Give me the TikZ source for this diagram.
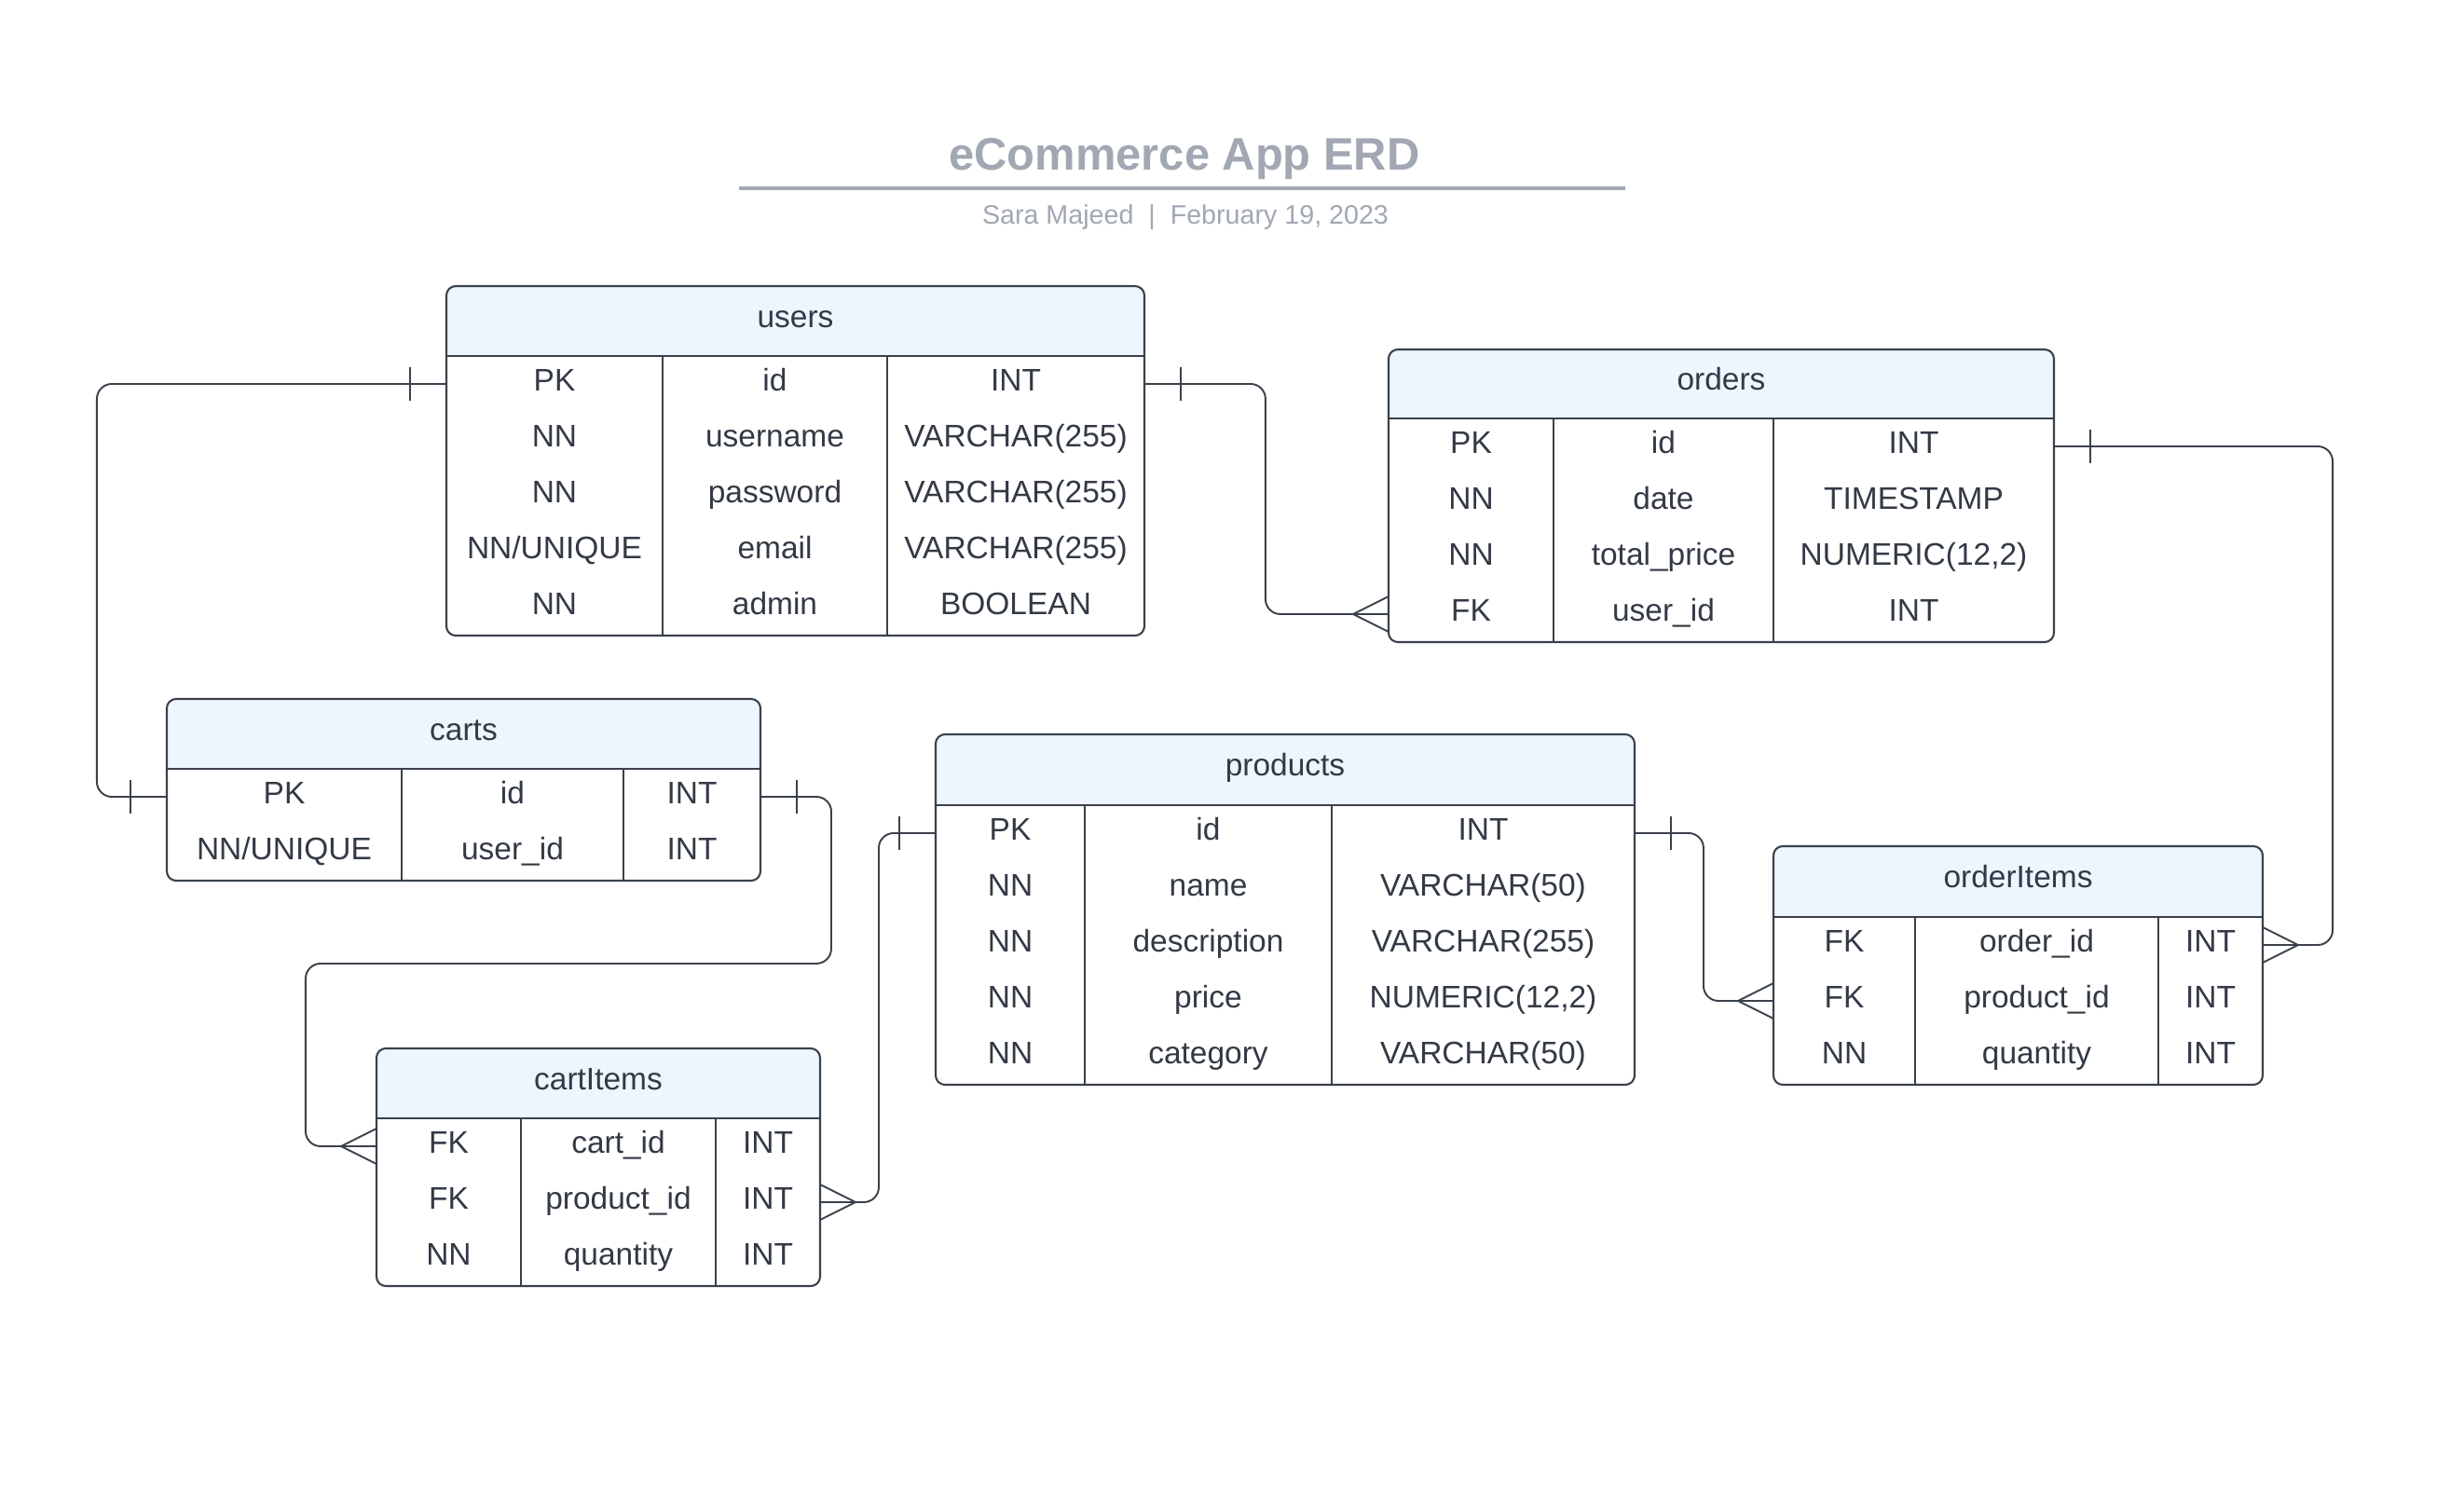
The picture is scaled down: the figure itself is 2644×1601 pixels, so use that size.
\documentclass[tikz,border=0pt]{standalone}
\usepackage{fontspec}
\setmainfont{Liberation Sans}
\usetikzlibrary{fit}
\definecolor{textc}{RGB}{51,58,69}
\definecolor{linec}{RGB}{58,65,74}
\definecolor{headfill}{RGB}{237,245,255}
\definecolor{titlec}{RGB}{161,168,179}
\tikzset{
  tline/.style={draw=linec, line width=0.6pt},
  tablebox/.style={draw=linec, line width=0.6pt, rounded corners=0.1cm, inner sep=0pt, outer sep=0pt},
  rowbox/.style={inner sep=0pt, outer sep=0pt},
  celltext/.style={anchor=base, text=textc, font=\fontsize{9.52}{11}\selectfont, inner sep=0pt},
  headtext/.style={anchor=base, text=textc, font=\fontsize{9.52}{11}\selectfont, inner sep=0pt},
  conn/.style={draw=linec, line width=0.55pt, rounded corners=0.16cm},
  crow/.style={draw=linec, line width=0.55pt},
  tickline/.style={draw=linec, line width=0.45pt},
  onel/.pic={\draw[tickline] (-39,-18) -- (-39,18);},
  oner/.pic={\draw[tickline] (39,-18) -- (39,18);},
  manyl/.pic={\draw[crow] (0,-19) -- (-38,0) -- (0,19);},
  manyr/.pic={\draw[crow] (0,-19) -- (38,0) -- (0,19);},
}
% #1 name, #2 left, #3 right, #4 top, #5 header bottom, #6 rows, #7 div1, #8 div2, #9 title
\newcommand{\erdtable}[9]{%
  \gdef\tL{#2}\gdef\tR{#3}\gdef\tH{#5}\gdef\tA{#7}\gdef\tB{#8}%
  \pgfmathsetmacro\tBot{#5+60*#6}%
  \begin{scope}
    \clip[rounded corners=0.1cm] (#2,#4) rectangle (#3,\tBot);
    \fill[headfill] (#2,#4) rectangle (#3,#5);
  \end{scope}
  \draw[tline] (#2,#5) -- (#3,#5);
  \draw[tline] (#7,#5) -- (#7,\tBot);
  \draw[tline] (#8,#5) -- (#8,\tBot);
  \node[tablebox, fit={(#2,#4) (#3,\tBot)}] (#1) {};
  \node[headtext] (#1-title) at ({(#2+#3)/2},{(#4+#5)/2+7}) {#9};
}
% #1 name, #2 row index, #3 #4 #5 cell texts
\newcommand{\erdrow}[5]{%
  \pgfmathsetmacro\yc{\tH+60*#2-30}%
  \pgfmathsetmacro\ya{\yc-30}%
  \pgfmathsetmacro\yb{\yc+30}%
  \node[rowbox, fit={(\tL,\ya) (\tR,\yb)}] (#1-r#2) {};
  \node[celltext] (#1-r#2-a) at ({(\tL+\tA)/2},{\yc+8}) {#3};
  \node[celltext] (#1-r#2-b) at ({(\tA+\tB)/2},{\yc+8}) {#4};
  \node[celltext] (#1-r#2-c) at ({(\tB+\tR)/2},{\yc+8}) {#5};
}
\begin{document}
\begin{tikzpicture}[x=0.01cm,y=-0.01cm]
\fill[white] (0,0) rectangle (2644,1601);
\useasboundingbox (0,0) rectangle (2644,1601);

% title
\node[anchor=base, text=titlec, font=\fontsize{13.9}{16}\selectfont\bfseries, inner sep=0pt] (title) at (1271,183) {eCommerce App ERD};
\coordinate (ulL) at (793,202);
\coordinate (ulR) at (1744,202);
\draw[titlec, line width=1.15pt] (ulL) -- (ulR);
\node[anchor=base, text=titlec, font=\fontsize{8.15}{10}\selectfont, inner sep=0pt] (subtitle) at (1272,241) {Sara Majeed\ \ |\ \ February 19, 2023};

% users
\erdtable{users}{479}{1228}{307}{382}{5}{711}{952}{users}
\erdrow{users}{1}{PK}{id}{INT}
\erdrow{users}{2}{NN}{username}{VARCHAR(255)}
\erdrow{users}{3}{NN}{password}{VARCHAR(255)}
\erdrow{users}{4}{NN/UNIQUE}{email}{VARCHAR(255)}
\erdrow{users}{5}{NN}{admin}{BOOLEAN}

% orders
\erdtable{orders}{1490}{2204}{375}{449}{4}{1667}{1903}{orders}
\erdrow{orders}{1}{PK}{id}{INT}
\erdrow{orders}{2}{NN}{date}{TIMESTAMP}
\erdrow{orders}{3}{NN}{total\_price}{NUMERIC(12,2)}
\erdrow{orders}{4}{FK}{user\_id}{INT}

% carts
\erdtable{carts}{179}{816}{750}{825}{2}{431}{669}{carts}
\erdrow{carts}{1}{PK}{id}{INT}
\erdrow{carts}{2}{NN/UNIQUE}{user\_id}{INT}

% cartItems
\erdtable{cartItems}{404}{880}{1125}{1200}{3}{559}{768}{cartItems}
\erdrow{cartItems}{1}{FK}{cart\_id}{INT}
\erdrow{cartItems}{2}{FK}{product\_id}{INT}
\erdrow{cartItems}{3}{NN}{quantity}{INT}

% products
\erdtable{products}{1004}{1754}{788}{864}{5}{1164}{1429}{products}
\erdrow{products}{1}{PK}{id}{INT}
\erdrow{products}{2}{NN}{name}{VARCHAR(50)}
\erdrow{products}{3}{NN}{description}{VARCHAR(255)}
\erdrow{products}{4}{NN}{price}{NUMERIC(12,2)}
\erdrow{products}{5}{NN}{category}{VARCHAR(50)}

% orderItems
\erdtable{orderItems}{1903}{2428}{908}{984}{3}{2055}{2316}{orderItems}
\erdrow{orderItems}{1}{FK}{order\_id}{INT}
\erdrow{orderItems}{2}{FK}{product\_id}{INT}
\erdrow{orderItems}{3}{NN}{quantity}{INT}

% connectors
% users.id -- carts.id
\draw[conn] (users-r1.west) -| ([xshift=-0.75cm]carts-r1.west) -- (carts-r1.west);
\pic at (users-r1.west) {onel};
\pic at (carts-r1.west) {onel};

% users.id -- orders.user_id
\draw[conn] (users-r1.east) -| ([xshift=-1.32cm]orders-r4.west) -- (orders-r4.west);
\pic at (users-r1.east) {oner};
\pic at (orders-r4.west) {manyl};

% carts.id -- cartItems.cart_id
\coordinate (w3) at (892,1034);
\draw[conn] (carts-r1.east) -| (w3) -| ([xshift=-0.76cm]cartItems-r1.west) -- (cartItems-r1.west);
\pic at (carts-r1.east) {oner};
\pic at (cartItems-r1.west) {manyl};

% cartItems.product_id -- products.id
\draw[conn] (cartItems-r2.east) -| ([xshift=-0.61cm]products-r1.west) -- (products-r1.west);
\pic at (cartItems-r2.east) {manyr};
\pic at (products-r1.west) {onel};

% products.id -- orderItems.product_id
\draw[conn] (products-r1.east) -| ([xshift=-0.75cm]orderItems-r2.west) -- (orderItems-r2.west);
\pic at (products-r1.east) {oner};
\pic at (orderItems-r2.west) {manyl};

% orders.id -- orderItems.order_id
\draw[conn] (orders-r1.east) -| ([xshift=0.75cm]orderItems-r1.east) -- (orderItems-r1.east);
\pic at (orders-r1.east) {oner};
\pic at (orderItems-r1.east) {manyr};
\end{tikzpicture}
\end{document}
